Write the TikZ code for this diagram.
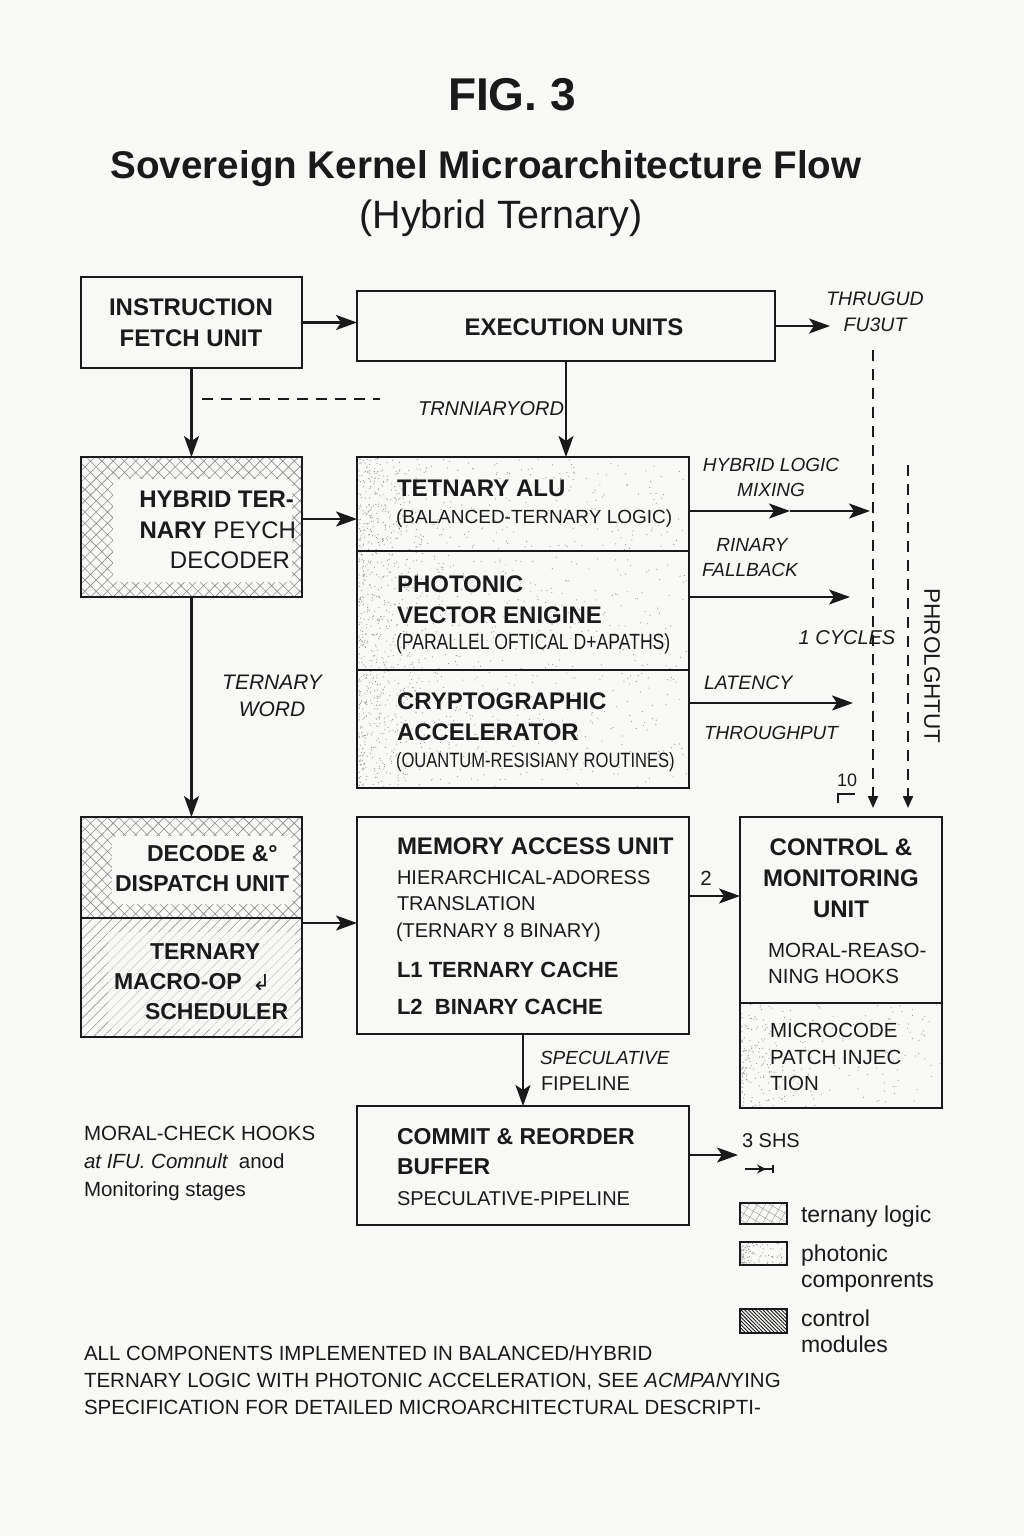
\documentclass[tikz,border=0pt]{standalone}
\usepackage{fontspec}
\setmainfont{Liberation Sans}
\newfontfamily\condfont[FakeStretch=0.8]{Liberation Sans}
\newfontfamily\dejavu{DejaVu Sans}
\usetikzlibrary{arrows.meta,patterns.meta}
\definecolor{ink}{HTML}{1A1A1A}
\definecolor{bg}{HTML}{F8F8F6}
\definecolor{dotc}{HTML}{9A9A9A}
\newcommand\stip[5]{%
 \begin{scope}
 \clip (#1,#2) rectangle (#3,#4);
 \foreach \k in {1,...,#5}{%
  \pgfmathsetmacro\sx{#1+rnd*(#3-#1)}%
  \pgfmathsetmacro\sy{#2+rnd*(#4-#2)}%
  \fill[dotc] (\sx,\sy) circle (0.6);
 }
 \foreach \k in {1,...,#5}{%
  \pgfmathsetmacro\sx{#1+rnd*rnd*0.3*(#3-#1)}%
  \pgfmathsetmacro\sy{#2+rnd*(#4-#2)}%
  \fill[dotc] (\sx,\sy) circle (0.6);
 }
 \end{scope}}
\tikzset{
 box/.style={draw=ink, line width=2.4pt, inner sep=0pt, outer sep=0pt, anchor=north west},
 lbl/.style={inner sep=0pt, outer sep=0pt, text=ink},
 btxt/.style={lbl, font=\fontsize{#1}{#1}\selectfont\bfseries},
 rtxt/.style={lbl, font=\fontsize{#1}{#1}\selectfont},
 itxt/.style={lbl, font=\fontsize{#1}{#1}\selectfont\itshape},
 ctxt/.style={lbl, font=\fontsize{#1}{#1}\selectfont\condfont},
 conn/.style={draw=ink, line width=2.2pt, -{Stealth[length=21pt,width=15pt,inset=5pt]}},
 dline/.style={draw=ink, line width=2pt, dash pattern=on 11pt off 8pt},
 xhatch/.style={pattern={Hatch[angle=45,distance=8pt,line width=0.6pt]}, pattern color=gray!90},
}
\begin{document}
\begin{tikzpicture}[x=1pt,y=-1pt]
\pgfmathsetseed{7}
\useasboundingbox (0,0) rectangle (1024,1536);
\fill[bg] (0,0) rectangle (1024,1536);

% titles
\node[btxt=46, anchor=base] (fig) at (512,111) {FIG. 3};
\node[btxt=38.6, anchor=base] (title) at (486,178) {Sovereign Kernel Microarchitecture Flow};
\node[rtxt=39.5, anchor=base] (subtitle) at (501,228) {(Hybrid Ternary)};

% boxes
\node[box, minimum width=221pt, minimum height=91pt] (ifu) at (81,277) {};
\node[box, minimum width=418pt, minimum height=70pt] (exec) at (357,291) {};
\node[box, minimum width=221pt, minimum height=140pt, xhatch] (dec) at (81,457) {};
\node[box, minimum width=332pt, minimum height=94pt] (alu) at (357,457) {};
\node[box, minimum width=332pt, minimum height=119pt] (pve) at (357,551) {};
\node[box, minimum width=332pt, minimum height=118pt] (cry) at (357,670) {};
\node[box, minimum width=221pt, minimum height=101pt, xhatch] (dd) at (81,817) {};
\node[box, minimum width=221pt, minimum height=119pt, pattern={Lines[angle=45,distance=7pt,line width=0.6pt]}, pattern color=gray!85] (sch) at (81,918) {};
\node[box, minimum width=332pt, minimum height=217pt] (mem) at (357,817) {};
\node[box, minimum width=202pt, minimum height=186pt] (ctrl) at (740,817) {};
\node[box, minimum width=202pt, minimum height=105pt] (mcp) at (740,1003) {};
\node[box, minimum width=332pt, minimum height=119pt] (com) at (357,1106) {};

% fills
\fill[bg, rounded corners=6pt] (113,479) rectangle (292,582);
\fill[bg, rounded corners=6pt] (112,836) rectangle (293,904);
\fill[bg, opacity=0.6] (108,932) rectangle (295,1029);
\stip{358.5}{458.5}{687.5}{549.8}{230}
\stip{358.5}{552.2}{687.5}{668.8}{260}
\stip{358.5}{671.2}{687.5}{786.5}{260}
\stip{741.5}{1004.2}{940.5}{1106.5}{140}

% box texts
\node[btxt=24, anchor=base] (ifu1) at (191,315) {INSTRUCTION};
\node[btxt=24, anchor=base] (ifu2) at (191,346) {FETCH UNIT};
\node[btxt=24, anchor=base] (exec1) at (574,335) {EXECUTION UNITS};

\node[btxt=24, anchor=base east] (dec1) at (294,507) {HYBRID TER-};
\node[rtxt=24, anchor=base east] (dec2) at (296,538) {\bfseries NARY\mdseries\ PEYCH};
\node[rtxt=24, anchor=base east] (dec3) at (290,568) {DECODER};

\node[btxt=24, anchor=base west] (alu1) at (397,496) {TETNARY ALU};
\node[rtxt=19, anchor=base west] (alu2) at (396,523) {(BALANCED-TERNARY LOGIC)};
\node[btxt=24, anchor=base west] (pve1) at (397,592) {PHOTONIC};
\node[btxt=24, anchor=base west] (pve2) at (397,623) {VECTOR ENIGINE};
\node[ctxt=22, anchor=base west] (pve3) at (396,649) {(PARALLEL OFTICAL D+APATHS)};
\node[btxt=24, anchor=base west] (cry1) at (397,709) {CRYPTOGRAPHIC};
\node[btxt=24, anchor=base west] (cry2) at (397,740) {ACCELERATOR};
\node[ctxt=20.7, anchor=base west] (cry3) at (396,767) {(OUANTUM-RESISIANY ROUTINES)};

\node[btxt=23, anchor=base west] (dd1) at (147,861) {DECODE \&°};
\node[btxt=23, anchor=base west] (dd2) at (115,891) {DISPATCH UNIT};
\node[btxt=23, anchor=base west] (sch1) at (150,959) {TERNARY};
\node[btxt=23, anchor=base west] (sch2) at (114,989) {MACRO-OP};
\node[lbl, font=\dejavu\fontsize{22}{22}\selectfont, anchor=base west] (sch3) at (252,990) {↲};
\node[btxt=23, anchor=base west] (sch4) at (145,1019) {SCHEDULER};

\node[btxt=24, anchor=base west] (mem1) at (397,854) {MEMORY ACCESS UNIT};
\node[rtxt=20, anchor=base west] (mem2) at (397,884) {HIERARCHICAL-ADORESS};
\node[rtxt=20, anchor=base west] (mem3) at (397,910) {TRANSLATION};
\node[rtxt=20, anchor=base west] (mem4) at (396,937) {(TERNARY 8 BINARY)};
\node[btxt=22, anchor=base west] (mem5) at (397,977) {L1 TERNARY CACHE};
\node[btxt=22, anchor=base west] (mem6) at (397,1014) {L2\ \ BINARY CACHE};

\node[btxt=24, anchor=base] (ctrl1) at (841,855) {CONTROL \&};
\node[btxt=24, anchor=base] (ctrl2) at (841,886) {MONITORING};
\node[btxt=24, anchor=base] (ctrl3) at (841,917) {UNIT};
\node[rtxt=20.5, anchor=base west] (ctrl4) at (768,957) {MORAL-REASO-};
\node[rtxt=20.5, anchor=base west] (ctrl5) at (768,983) {NING HOOKS};
\node[rtxt=20.5, anchor=base west] (mcp1) at (770,1037) {MICROCODE};
\node[rtxt=20.5, anchor=base west] (mcp2) at (770,1064) {PATCH INJEC};
\node[rtxt=20.5, anchor=base west] (mcp3) at (770,1090) {TION};

\node[btxt=23, anchor=base west] (com1) at (397,1144) {COMMIT \& REORDER};
\node[btxt=23, anchor=base west] (com2) at (397,1174) {BUFFER};
\node[rtxt=20, anchor=base west] (com3) at (397,1205) {SPECULATIVE-PIPELINE};

% connectors
\coordinate (thr) at (830,326);
\draw[conn] (ifu.east) -- (ifu.east -| exec.west);
\draw[conn] (exec.east) -- (thr);
\draw[conn] (ifu.south) -- (dec.north);
\coordinate (dsh1) at (202,399); \coordinate (dsh2) at (380,399);
\draw[dline] (dsh1) -- (dsh2);
\draw[conn] (exec.south) -- (exec.south |- alu.north);
\coordinate (y519) at (0,519);
\draw[conn] (dec.east |- y519) -- (alu.west |- y519);
\coordinate (m1) at (790,511); \coordinate (e1) at (870,511);
\draw[conn] (alu.east |- m1) -- (m1);
\draw[conn] (m1) -- (e1);
\coordinate (e2) at (850,597);
\draw[conn] (pve.east |- e2) -- (e2);
\coordinate (e3) at (853,703);
\draw[conn] (cry.east |- e3) -- (e3);
\draw[conn] (dec.south) -- (dd.north);
\coordinate (y923) at (0,923);
\draw[conn] (dd.east |- y923) -- (mem.west |- y923);
\coordinate (y896) at (0,896);
\draw[conn] (mem.east |- y896) -- (ctrl.west |- y896);
\draw[conn] (mem.south) -- (com.north);
\coordinate (e4) at (738,1155);
\draw[conn] (com.east |- e4) -- (e4);
\coordinate (v1) at (873,350); \coordinate (v2) at (908,465);
\draw[dline, -{Triangle[length=12pt,width=10pt]}, shorten >=9pt] (v1) -- (v1 |- ctrl.north);
\draw[dline, -{Triangle[length=12pt,width=10pt]}, shorten >=9pt] (v2) -- (v2 |- ctrl.north);

% connector labels
\node[itxt=20, anchor=base] (lb1) at (491,415) {TRNNIARYORD};
\node[itxt=19.5, anchor=base] (lb2) at (875,305) {THRUGUD};
\node[itxt=19.5, anchor=base] (lb3) at (875,331) {FU3UT};
\node[itxt=19, anchor=base] (lb4) at (771,471) {HYBRID LOGIC};
\node[itxt=19, anchor=base] (lb5) at (771,496) {MIXING};
\node[itxt=19, anchor=base] (lb6) at (752,551) {RINARY};
\node[itxt=19, anchor=base] (lb7) at (750,576) {FALLBACK};
\node[itxt=20, anchor=base] (lb8) at (847,644) {1 CYCLES};
\node[itxt=19.5, anchor=base west] (lb9) at (704,689) {LATENCY};
\node[itxt=19, anchor=base west] (lb10) at (704,739) {THROUGHPUT};
\node[itxt=21, anchor=base] (lb11) at (272,689) {TERNARY};
\node[itxt=21, anchor=base] (lb12) at (272,716) {WORD};
\node[rtxt=22.5, rotate=-90] (lb13) at (932,666) {PHROLGHTUT};
\node[rtxt=18, anchor=base] (lb14) at (847,786) {10};
\coordinate (br1) at (838,803); \coordinate (br2) at (838,794); \coordinate (br3) at (855,794);
\draw[ink, line width=1.8pt] (br1) -- (br2) -- (br3);
\node[rtxt=20.5, anchor=base] (lb15) at (706,885) {2};
\node[itxt=19, anchor=base west] (lb16) at (540,1064) {SPECULATIVE};
\node[rtxt=20, anchor=base west] (lb17) at (541,1090) {FIPELINE};
\node[rtxt=20, anchor=base west] (lb18) at (742,1147) {3 SHS};
\coordinate (s1) at (745,1169); \coordinate (s2) at (766,1169); \coordinate (s3) at (773,1169);
\draw[ink, line width=2pt] (s1) -- (s3);
\draw[ink, line width=2pt, -{Stealth[length=9pt,width=9pt]}] (s1) -- (s2);
\draw[ink, line width=1.5pt] ([yshift=4pt]s3) -- ([yshift=-4pt]s3);

% side note
\node[rtxt=20.5, anchor=base west] (n1) at (84,1140) {MORAL-CHECK HOOKS};
\node[rtxt=20.5, anchor=base west] (n2) at (84,1168) {{\itshape at IFU. Comnult}\ \ anod};
\node[rtxt=20.5, anchor=base west] (n3) at (84,1196) {Monitoring stages};

% legend
\node[box, line width=2pt, minimum width=47pt, minimum height=21pt, pattern={Hatch[angle=60,distance=7pt,line width=0.4pt]}, pattern color=gray!80] (lg1) at (740,1203) {};
\node[box, line width=2pt, minimum width=47pt, minimum height=23pt] (lg2) at (740,1242) {};
\stip{741}{1243}{786}{1264}{45}
\node[box, line width=2pt, minimum width=47pt, minimum height=24pt, pattern={Lines[angle=-45,distance=2.6pt,line width=0.9pt]}, pattern color=ink] (lg3) at (740,1309) {};
\node[rtxt=23, anchor=base west] (lt1) at (801,1222) {ternany logic};
\node[rtxt=23, anchor=base west] (lt2) at (801,1261) {photonic};
\node[rtxt=23, anchor=base west] (lt3) at (801,1287) {componrents};
\node[rtxt=23, anchor=base west] (lt4) at (801,1326) {control};
\node[rtxt=23, anchor=base west] (lt5) at (801,1352) {modules};

% bottom text
\node[rtxt=20.5, anchor=base west] (b1) at (84,1360) {ALL COMPONENTS IMPLEMENTED IN BALANCED/HYBRID};
\node[rtxt=20.5, anchor=base west] (b2) at (84,1387) {TERNARY LOGIC WITH PHOTONIC ACCELERATION, SEE {\itshape ACMPAN}YING};
\node[rtxt=20.5, anchor=base west] (b3) at (84,1414) {SPECIFICATION FOR DETAILED MICROARCHITECTURAL DESCRIPTI-};
\end{tikzpicture}
\end{document}
